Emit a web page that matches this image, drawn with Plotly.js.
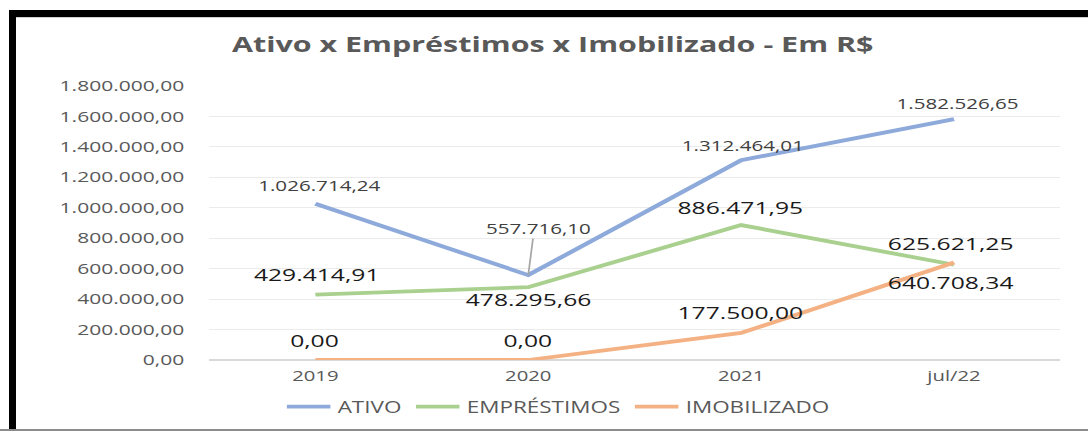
<!DOCTYPE html>
<html>
<head>
<meta charset="utf-8">
<script src="https://cdn.plot.ly/plotly-3.0.1.min.js"></script>
<style>
  html, body { margin: 0; padding: 0; background: #fff; }
  #wrap { position: relative; width: 1088px; height: 431px; overflow: hidden; background: #fff; }
  #chart { position: absolute; left: 0; top: 0; width: 750px; height: 431px; transform: scaleX(1.4507); transform-origin: 0 0; }
  .band { position: absolute; }
</style>
</head>
<body>
<div id="wrap">
  <div id="chart"></div>
  <div class="band" style="left:9px;top:10px;width:7px;height:421px;background:#000;"></div>
  <div class="band" style="left:9px;top:10px;width:1079px;height:7px;background:#000;"></div>
  <div class="band" style="left:16px;top:17px;width:1072px;height:1px;background:#d0d0d0;"></div>
  <div class="band" style="left:0;top:429px;width:1088px;height:2px;background:#8c8c8c;"></div>
</div>
<script>
// ---- data ----
const categories = ['2019', '2020', '2021', 'jul/22'];
const ativo = [1026714.24, 557716.10, 1312464.01, 1582526.65];
const emprestimos = [429414.91, 478295.66, 886471.95, 625621.25];
const imobilizado = [0.00, 0.00, 177500.00, 640708.34];
const yTicks = [0, 200000, 400000, 600000, 800000, 1000000, 1200000, 1400000, 1600000, 1800000];
const seriesNames = ['ATIVO', 'EMPRÉSTIMOS', 'IMOBILIZADO'];
const chartTitle = 'Ativo x Empréstimos x Imobilizado - Em R$';

// ---- helpers ----
function fmtBR(v) {
  const parts = Math.abs(v).toFixed(2).split('.');
  const intPart = parts[0].replace(/\B(?=(\d{3})+(?!\d))/g, '.');
  return (v < 0 ? '-' : '') + intPart + ',' + parts[1];
}

const colors = ['#8eaadb', '#a9d08e', '#f4b183'];
const FONT = '"Open Sans", "Liberation Sans", sans-serif';

const seriesVals = [ativo, emprestimos, imobilizado];
const traces = seriesVals.map((vals, k) => ({
  type: 'scatter',
  mode: 'lines',
  x: categories,
  y: vals,
  name: seriesNames[k],
  line: { color: colors[k], width: 3.8 },
  hoverinfo: 'skip'
}));

// label offsets (plot pixels, before horizontal stretch)
const labelShift = [
  [[3, 18], [7, 47], [1, 15], [2, 16]],
  [[1, 20], [0, -12], [0, 18], [-2, 21]],
  [[0, 20], [0, 20], [0, 20], [-2, -20]]
];
const labelStyle = [
  { size: 14.2, color: '#404040' },
  { size: 17, color: '#1a1a1a' },
  { size: 17, color: '#1a1a1a' }
];

// category positions on the category axis (index of each category)
const catIndex = categories.map((c, i) => i);

const annotations = [];
seriesVals.forEach((vals, k) => {
  vals.forEach((v, i) => {
    annotations.push({
      x: catIndex[i], y: v, xref: 'x', yref: 'y',
      text: fmtBR(v), showarrow: false,
      xshift: labelShift[k][i][0], yshift: labelShift[k][i][1],
      xanchor: 'center', yanchor: 'middle',
      font: { family: FONT, size: labelStyle[k].size, color: labelStyle[k].color }
    });
  });
});
// leader line for ATIVO 2020 label
annotations.push({
  x: catIndex[1], y: ativo[1], xref: 'x', yref: 'y',
  text: '', showarrow: true, arrowhead: 0, arrowwidth: 1.2, arrowcolor: '#a6a6a6',
  ax: 3.4, ay: -38, standoff: 0, startstandoff: 0
});

const layout = {
  width: 750, height: 431,
  margin: { l: 143.7, r: 19, t: 86, b: 71, pad: 0 },
  paper_bgcolor: 'rgba(0,0,0,0)',
  plot_bgcolor: 'rgba(0,0,0,0)',
  title: {
    text: '<b>' + chartTitle + '</b>',
    x: 0.508, xref: 'container', xanchor: 'center',
    y: 0.8956, yref: 'container', yanchor: 'middle',
    font: { family: FONT, size: 21, color: '#595959' }
  },
  xaxis: {
    type: 'category', range: [-0.5, 3.5],
    showgrid: false, zeroline: false, showline: false, ticks: '',
    ticklabelstandoff: 6,
    tickfont: { family: FONT, size: 14, color: '#595959' }
  },
  yaxis: {
    range: [0, 1800000], tickvals: yTicks, ticktext: yTicks.map(fmtBR),
    showgrid: true, gridcolor: '#ebebeb', gridwidth: 1,
    zeroline: true, zerolinecolor: '#d9d9d9', zerolinewidth: 1.2,
    showline: false, ticks: '', ticklabelstandoff: 16,
    tickfont: { family: FONT, size: 14.5, color: '#595959' }
  },
  showlegend: true,
  legend: {
    orientation: 'h', xref: 'container', yref: 'container',
    x: 0.513, xanchor: 'center', y: 0.0557, yanchor: 'middle',
    font: { family: FONT, size: 15.5, color: '#595959' },
    itemclick: false, bgcolor: 'rgba(0,0,0,0)'
  },
  annotations: annotations
};

Plotly.newPlot('chart', traces, layout, { staticPlot: true, displayModeBar: false });
</script>
</body>
</html>
